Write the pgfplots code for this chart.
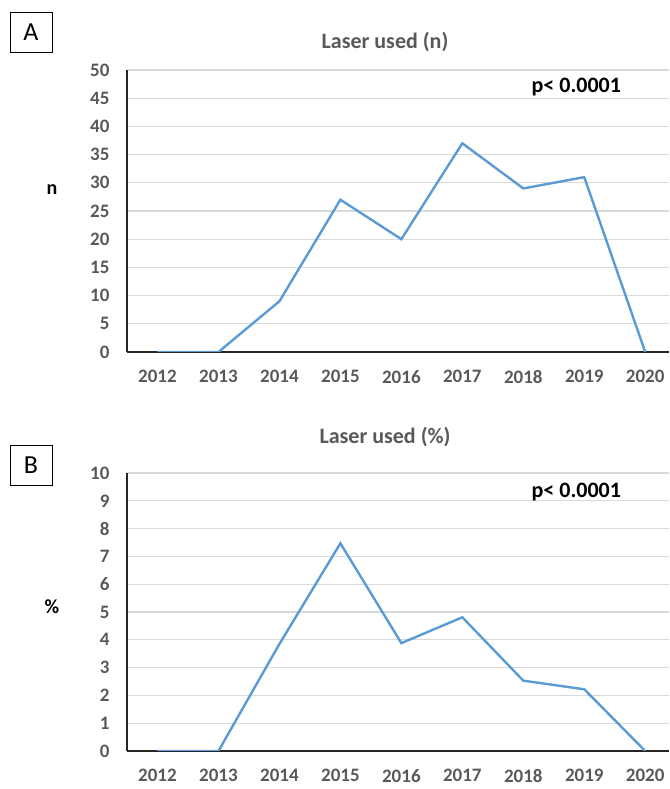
\documentclass[border=0pt]{standalone}
\usepackage{pgfplots}
\pgfplotsset{compat=1.18}
\usepackage{fontspec}
\setmainfont{Carlito}
\definecolor{lblue}{HTML}{5B9BD5}
\definecolor{tgray}{HTML}{595959}
\definecolor{ggray}{HTML}{D9D9D9}
\begin{document}
\begin{tikzpicture}
\useasboundingbox (0pt,0pt) rectangle (669pt,789pt);
\pgfplotsset{
 myax/.style={
  scale only axis, width=542pt, xmin=-0.5, xmax=8.39,
  axis x line*=bottom, axis y line*=left,
  axis line style={-, black!85, line width=1.2pt},
  xtick={0,...,8}, xticklabels={2012,2013,2014,2015,2016,2017,2018,2019,2020},
  major tick length=0pt,
  ymajorgrids, grid style={ggray, line width=1.2pt},
  tick label style={font=\fontsize{19}{22}\selectfont\bfseries, text=tgray},
  /pgf/number format/assume math mode=true,
  yticklabel style={xshift=-14pt},
  xticklabel style={inner sep=1pt, yshift=-17pt},
 }}
% Panel A
\begin{axis}[myax, at={(127pt,437pt)}, anchor=south west, height=282pt,
  ymin=0, ymax=50, ytick={0,5,...,50}]
\addplot[lblue, line width=2.4pt] coordinates {(0,0) (1,0) (2,9) (3,27) (4,20) (5,37) (6,29) (7,31) (8,0)};
\node[font=\fontsize{22}{26}\selectfont\bfseries] at (axis cs:6.87,47.0) {p< 0.0001};
\end{axis}
\node[text=tgray, font=\fontsize{22}{26}\selectfont\bfseries] at (385pt,747pt) {Laser used (n)};
\node[draw, line width=0.8pt, minimum width=42pt, minimum height=40pt, inner sep=0pt, font=\fontsize{26}{30}\selectfont] at (31pt,757pt) {A};
\node[font=\fontsize{20}{24}\selectfont\bfseries] at (52pt,599pt) {n};
% Panel B
\begin{axis}[myax, at={(127pt,38pt)}, anchor=south west, height=278pt,
  ymin=0, ymax=10, ytick={0,1,...,10}]
\addplot[lblue, line width=2.4pt] coordinates {(0,0) (1,0) (2,3.85) (3,7.47) (4,3.88) (5,4.81) (6,2.53) (7,2.22) (8,0)};
\node[font=\fontsize{22}{26}\selectfont\bfseries] at (axis cs:6.87,9.33) {p< 0.0001};
\end{axis}
\node[text=tgray, font=\fontsize{22}{26}\selectfont\bfseries] at (385pt,352pt) {Laser used (\%)};
\node[draw, line width=0.8pt, minimum width=42pt, minimum height=40pt, inner sep=0pt, font=\fontsize{26}{30}\selectfont] at (31pt,324pt) {B};
\node[font=\fontsize{20}{24}\selectfont\bfseries] at (52pt,182pt) {\%};
\end{tikzpicture}
\end{document}
